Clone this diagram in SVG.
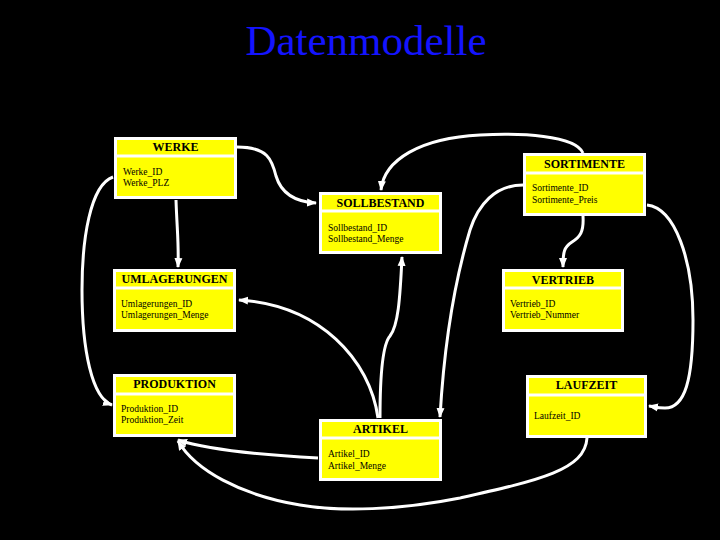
<svg xmlns="http://www.w3.org/2000/svg" width="720" height="540" viewBox="0 0 720 540">
<defs>
<marker id="arr" markerUnits="userSpaceOnUse" markerWidth="10" markerHeight="10" viewBox="0 0 10 10" refX="9" refY="5" orient="auto">
<path d="M0,1 L10,5 L0,9 Z" fill="#ffffff"/>
</marker>
<style>
.box{fill:#ffff00;stroke:#ffffff;stroke-width:3}
.sep{stroke:#ffffff;stroke-width:3}
.ttl{font-family:"Liberation Serif","Times New Roman",serif;font-weight:bold;font-size:12px;fill:#000;text-anchor:middle}
.att{font-family:"Liberation Serif","Times New Roman",serif;font-size:9.5px;fill:#000}
.con{fill:none;stroke:#ffffff;stroke-width:3}
.arr{marker-end:url(#arr)}
</style>
</defs>
<rect width="720" height="540" fill="#000000"/>
<text x="366" y="55" font-family="Liberation Serif,'Times New Roman',serif" font-size="43" fill="#1414ff" text-anchor="middle">Datenmodelle</text>

<g id="connectors">
<path class="con arr" d="M237,147 C268,147 272,160 276,176 C282,196 298,202 316,203"/>
<path class="con arr" d="M583,153 C575,135 520,133 480,135 C420,138 384,160 381,190"/>
<path class="con arr" d="M523,185 C495,185 478,205 470,230 C458,270 445,330 440,417"/>
<path class="con arr" d="M583,216 C584,232 580,237 572,242 C564,247 563,252 563,267"/>
<path class="con arr" d="M647,205 C675,208 693,260 693,320 C693,380 685,408 665,408 C658,408 655,407 649,406"/>
<path class="con arr" d="M113,177 C90,185 82,240 82,290 C82,350 92,398 112,405"/>
<path class="con arr" d="M176,200 C177,230 179,245 178,267"/>
<path class="con arr" d="M378,418 C370,360 320,305 239,300"/>
<path class="con arr" d="M380,418 C380,380 382,345 390,336 C398,326 400,300 402,257"/>
<path class="con arr" d="M318,458 C280,456 215,452 178,440"/>
<path class="con arr" d="M587,438 C585,470 540,480 460,498 C400,510 340,512 300,505 C240,495 195,470 178,441"/>
</g>

<g id="werke">
<rect class="box" x="115.5" y="138.5" width="120" height="59"/>
<line class="sep" x1="115.5" y1="156" x2="235.5" y2="156"/>
<text class="ttl" x="175.5" y="151">WERKE</text>
<text class="att" x="123" y="175">Werke_ID</text>
<text class="att" x="123" y="186">Werke_PLZ</text>
</g>

<g id="sollbestand">
<rect class="box" x="320.5" y="193.5" width="120" height="59"/>
<line class="sep" x1="320.5" y1="211" x2="440.5" y2="211"/>
<text class="ttl" x="380.5" y="207">SOLLBESTAND</text>
<text class="att" x="328" y="231">Sollbestand_ID</text>
<text class="att" x="328" y="242">Sollbestand_Menge</text>
</g>

<g id="sortimente">
<rect class="box" x="524.5" y="154.5" width="120" height="60"/>
<line class="sep" x1="524.5" y1="173" x2="644.5" y2="173"/>
<text class="ttl" x="584.5" y="168">SORTIMENTE</text>
<text class="att" x="532" y="191">Sortimente_ID</text>
<text class="att" x="532" y="203">Sortimente_Preis</text>
</g>

<g id="umlagerungen">
<rect class="box" x="114.5" y="270.5" width="120" height="60"/>
<line class="sep" x1="114.5" y1="288" x2="234.5" y2="288"/>
<text class="ttl" x="174.5" y="283">UMLAGERUNGEN</text>
<text class="att" x="121" y="307">Umlagerungen_ID</text>
<text class="att" x="121" y="318">Umlagerungen_Menge</text>
</g>

<g id="produktion">
<rect class="box" x="114.5" y="375.5" width="120" height="60"/>
<line class="sep" x1="114.5" y1="394" x2="234.5" y2="394"/>
<text class="ttl" x="174.5" y="388">PRODUKTION</text>
<text class="att" x="121" y="412">Produktion_ID</text>
<text class="att" x="121" y="423">Produktion_Zeit</text>
</g>

<g id="artikel">
<rect class="box" x="320.5" y="420.5" width="120" height="59"/>
<line class="sep" x1="320.5" y1="438" x2="440.5" y2="438"/>
<text class="ttl" x="380.5" y="433">ARTIKEL</text>
<text class="att" x="328" y="457">Artikel_ID</text>
<text class="att" x="328" y="469">Artikel_Menge</text>
</g>

<g id="vertrieb">
<rect class="box" x="503.5" y="270.5" width="119" height="60"/>
<line class="sep" x1="503.5" y1="288" x2="622.5" y2="288"/>
<text class="ttl" x="563" y="284">VERTRIEB</text>
<text class="att" x="510" y="307">Vertrieb_ID</text>
<text class="att" x="510" y="318">Vertrieb_Nummer</text>
</g>

<g id="laufzeit">
<rect class="box" x="527.5" y="376.5" width="118" height="60"/>
<line class="sep" x1="527.5" y1="395" x2="645.5" y2="395"/>
<text class="ttl" x="586.5" y="389">LAUFZEIT</text>
<text class="att" x="534" y="419">Laufzeit_ID</text>
</g>
</svg>
